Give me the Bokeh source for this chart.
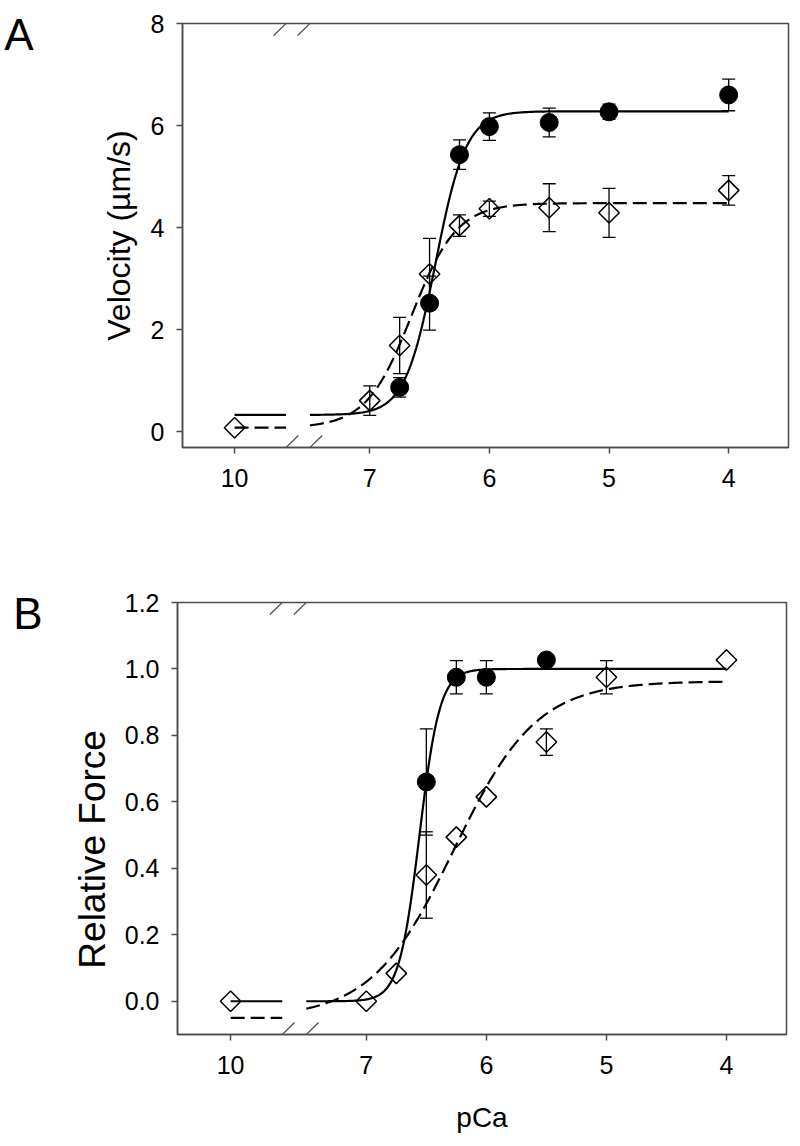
import numpy as np
from bokeh.plotting import figure
from bokeh.models import (ColumnDataSource, Range1d, FixedTicker, NumeralTickFormatter,
                          Whisker, TeeHead, Arrow, LinearAxis)
from bokeh.layouts import column
from bokeh.embed import file_html
from bokeh.resources import INLINE

# ---------------- data ----------------
x_tick_values = [10, 7, 6, 5, 4]
x_tick_labels = ["10", "7", "6", "5", "4"]

# Panel A: velocity (um/s)
a_circle_pca = [6.75, 6.5, 6.25, 6.0, 5.5, 5.0, 4.0]
a_circle_val = [0.87, 2.52, 5.43, 5.98, 6.06, 6.27, 6.60]
a_circle_err = [0.19, 0.53, 0.29, 0.27, 0.28, 0.15, 0.31]

a_diamond_pca = [10, 7.0, 6.75, 6.5, 6.25, 6.0, 5.5, 5.0, 4.0]
a_diamond_val = [0.08, 0.61, 1.69, 3.09, 4.04, 4.37, 4.39, 4.29, 4.73]
a_diamond_err = [0.0, 0.29, 0.55, 0.70, 0.21, 0.15, 0.47, 0.48, 0.29]

# Hill-fit parameters (bottom, top, pCa50, nH)
a_fit_solid = (0.33, 6.28, 6.45, 3.4)
a_fit_dashed = (0.08, 4.48, 6.65, 2.3)

# Panel B: relative force
b_circle_pca = [6.5, 6.25, 6.0, 5.5]
b_circle_val = [0.66, 0.975, 0.975, 1.027]
b_circle_err = [0.16, 0.05, 0.05, 0.0]

b_diamond_pca = [10, 7.0, 6.75, 6.5, 6.25, 6.0, 5.5, 5.0, 4.0]
b_diamond_val = [0.0, 0.0, 0.084, 0.38, 0.494, 0.615, 0.78, 0.975, 1.027]
b_diamond_err = [0.0, 0.0, 0.0, 0.13, 0.0, 0.0, 0.04, 0.05, 0.0]

b_fit_solid = (0.0, 1.0, 6.557, 5.1)
b_fit_dashed = (-0.05, 0.963, 6.27, 1.26)

# ---------------- styling / layout ----------------
FONT = "Liberation Sans"
AX = "#4a4a4a"
BREAK_POS = 8.13          # axis position used for pCa 10
GAP = (7.7, 7.5)          # axis break between these positions
CURVE_START = 7.5
CURVE_END = 4.0
DASH = "14 6"


def xpos(pca):
    return BREAK_POS if pca > 9 else pca


def hill(pca, fit):
    bottom, top, p50, n = fit
    return bottom + (top - bottom) / (1.0 + 10.0 ** (n * (pca - p50)))


def make_fig(border, xr, yr, yticks, yfmt, frame_w, frame_h):
    left, right, top, bottom = border
    p = figure(width=left + frame_w + right, height=top + frame_h + bottom,
               x_range=Range1d(*xr), y_range=Range1d(*yr),
               output_backend="svg", toolbar_location=None,
               min_border_left=left, min_border_right=right,
               min_border_top=top, min_border_bottom=bottom,
               frame_align=False)
    p.xgrid.visible = False
    p.ygrid.visible = False
    p.outline_line_color = AX
    p.outline_line_width = 1.5
    for ax in (p.xaxis[0], p.yaxis[0]):
        ax.axis_line_color = AX
        ax.axis_line_width = 1.5
        ax.major_tick_line_color = AX
        ax.major_tick_line_width = 1.5
        ax.major_tick_out = 6
        ax.major_tick_in = 0
        ax.minor_tick_line_color = None
        ax.major_label_text_font = FONT
        ax.major_label_text_font_size = "25px"
        ax.major_label_text_color = "black"
        ax.axis_label_text_font = FONT
        ax.axis_label_text_font_style = "normal"
        ax.axis_label_text_color = "black"
    p.yaxis.major_label_standoff = 12
    p.xaxis.major_label_standoff = 15
    p.xaxis.ticker = FixedTicker(ticks=[xpos(t) for t in x_tick_values])
    p.xaxis.major_label_overrides = {xpos(t): lab for t, lab in zip(x_tick_values, x_tick_labels)}
    p.yaxis.ticker = FixedTicker(ticks=yticks)
    p.yaxis.formatter = NumeralTickFormatter(format=yfmt)
    return p


def text_axis(p, yval, text, size, standoff, vertical=False):
    """An extra, line-less left axis whose single tick label carries a text."""
    ax = LinearAxis(ticker=FixedTicker(ticks=[yval]),
                    major_label_overrides={yval: text},
                    axis_line_color=None, major_tick_line_color=None,
                    minor_tick_line_color=None,
                    major_label_text_font=FONT, major_label_text_font_size=size,
                    major_label_text_color="black",
                    major_label_standoff=standoff)
    if vertical:
        ax.major_label_orientation = "vertical"
    p.add_layout(ax, "left")


def add_series(p, pca, val, kind):
    xs = [xpos(v) for v in pca]
    if kind == "circle":
        p.scatter(xs, val, marker="circle", size=18, fill_color="black", line_color="black")
    else:
        p.scatter(xs, val, marker="square", angle=np.pi / 4, size=14.5,
                  fill_color="white", line_color="black", line_width=1.5)


def add_whiskers(p, pca, val, err):
    keep = [i for i, e in enumerate(err) if e > 0]
    src = ColumnDataSource(dict(
        x=[xpos(pca[i]) for i in keep],
        upper=[val[i] + err[i] for i in keep],
        lower=[val[i] - err[i] for i in keep]))
    w = Whisker(base="x", upper="upper", lower="lower", source=src, dimension="height",
                line_color="black", line_width=1.3, level="overlay",
                upper_head=TeeHead(size=13, line_color="black", line_width=1.3),
                lower_head=TeeHead(size=13, line_color="black", line_width=1.3))
    p.add_layout(w)


def add_fit(p, fit, dash):
    xs = np.linspace(CURVE_START, CURVE_END, 300)
    kw = dict(line_color="black", line_width=2.2)
    if dash:
        kw["line_dash"] = DASH
    p.line(xs, hill(xs, fit), **kw)
    p.line([xpos(10), GAP[0]], [fit[0], fit[0]], **kw)


def add_breaks(p, xr, yr, frame_w, frame_h):
    px_x = frame_w / abs(xr[0] - xr[1])
    px_y = frame_h / abs(yr[1] - yr[0])
    dx = 12.3 / px_x
    dy = 12.0 / px_y
    for bx in GAP:
        for yy in yr:
            p.add_layout(Arrow(end=None, x_start=bx + dx, y_start=yy - dy,
                               x_end=bx - dx, y_end=yy + dy,
                               line_color=AX, line_width=1.2))


# ---------------- Panel A ----------------
xrA = (8.565, 3.5)
yrA = (-0.308, 8.0)
fwA, fhA = 606, 424
pA = make_fig((182, 4, 23, 80), xrA, yrA, [0, 2, 4, 6, 8], "0", fwA, fhA)
pA.yaxis[0].axis_label = "Velocity (µm/s)"
pA.yaxis[0].axis_label_text_font_size = "32px"
pA.yaxis[0].axis_label_standoff = 11
add_series(pA, a_circle_pca, a_circle_val, "circle")
add_series(pA, a_diamond_pca, a_diamond_val, "diamond")
add_fit(pA, a_fit_solid, False)
add_fit(pA, a_fit_dashed, True)
add_whiskers(pA, a_circle_pca, a_circle_val, a_circle_err)
add_whiskers(pA, a_diamond_pca, a_diamond_val, a_diamond_err)
add_breaks(pA, xrA, yrA, fwA, fhA)
text_axis(pA, 7.78, "A", "44px", 58)

# ---------------- Panel B ----------------
xrB = (8.5725, 3.5)
yrB = (-0.1, 1.2)
fwB, fhB = 609, 432
pB = make_fig((177, 6, 75, 108), xrB, yrB, [0.0, 0.2, 0.4, 0.6, 0.8, 1.0, 1.2], "0.0", fwB, fhB)
pB.xaxis[0].axis_label = "pCa"
pB.xaxis[0].axis_label_text_font_size = "28px"
pB.xaxis[0].axis_label_standoff = 25
add_series(pB, b_circle_pca, b_circle_val, "circle")
add_series(pB, b_diamond_pca, b_diamond_val, "diamond")
add_fit(pB, b_fit_solid, False)
add_fit(pB, b_fit_dashed, True)
add_whiskers(pB, b_circle_pca, b_circle_val, b_circle_err)
add_whiskers(pB, b_diamond_pca, b_diamond_val, b_diamond_err)
add_breaks(pB, xrB, yrB, fwB, fhB)
text_axis(pB, 0.457, "Relative Force", "37px", 2, vertical=True)
text_axis(pB, 1.167, "B", "44px", 21)

layout = column(pA, pB, spacing=0)
open("out.html", "w").write(file_html(layout, INLINE))
